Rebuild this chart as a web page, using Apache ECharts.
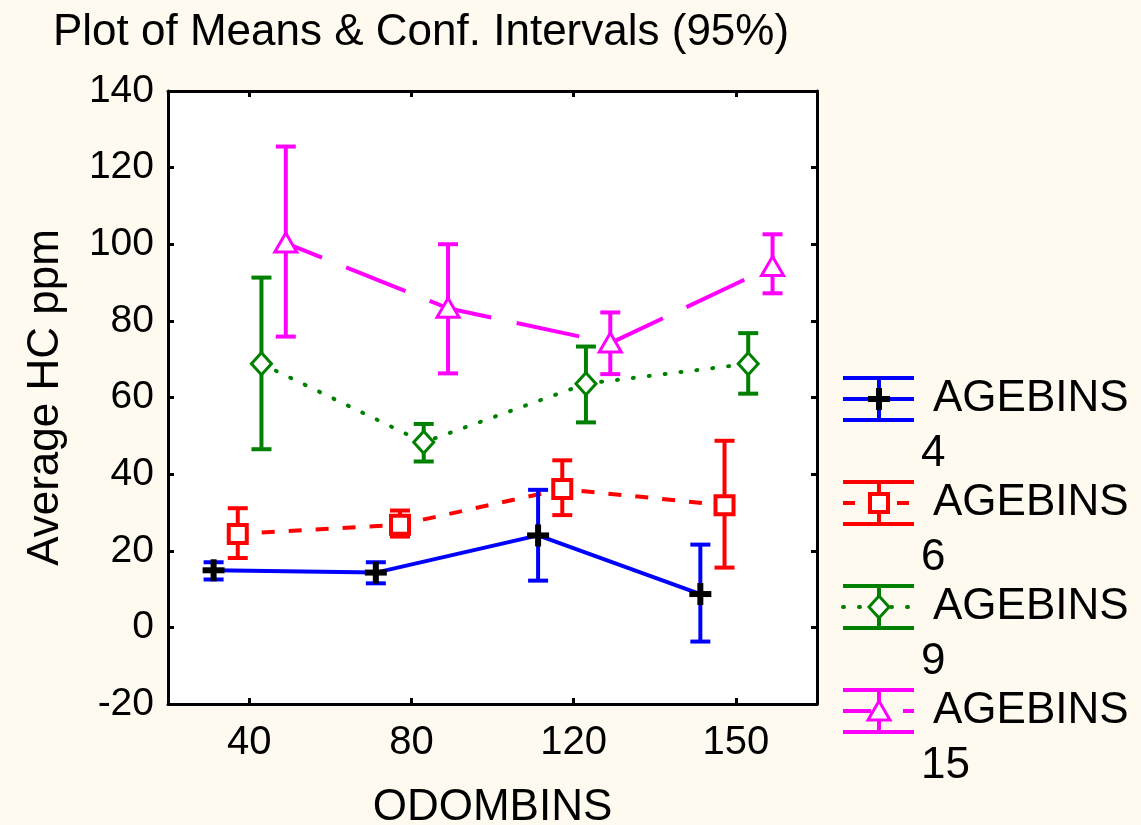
<!DOCTYPE html>
<html>
<head>
<meta charset="utf-8">
<title>Plot of Means & Conf. Intervals</title>
<script src="https://cdn.jsdelivr.net/npm/echarts@6/dist/echarts.min.js"></script>
<style>
  html, body { margin: 0; padding: 0; background: #fefaef; }
  #chart { width: 1141px; height: 825px; }
</style>
</head>
<body>
<div id="chart"></div>
<script>
// categories on the x axis (ODOMBINS) and groups (AGEBINS)
const CATEGORIES = ['40', '80', '120', '150']
const GROUPS = ['4', '6', '9', '15']

// means and 95% confidence limits, one array per group
const MEAN_4 = [14.9, 14.3, 24.0, 8.7]
const LOW_4 = [12.5, 11.5, 12.2, -3.7]
const HIGH_4 = [17.0, 17.0, 35.9, 21.6]

const MEAN_6 = [24.4, 26.8, 36.1, 31.9]
const LOW_6 = [18.1, 23.7, 29.3, 15.6]
const HIGH_6 = [31.1, 30.5, 43.6, 48.7]

const MEAN_9 = [68.8, 48.3, 63.6, 68.8]
const LOW_9 = [46.5, 43.3, 53.5, 61.0]
const HIGH_9 = [91.3, 53.1, 73.3, 76.8]

const MEAN_15 = [100.3, 83.3, 74.2, 94.2]
const LOW_15 = [75.9, 66.3, 66.1, 87.2]
const HIGH_15 = [125.5, 100.0, 82.2, 102.6]

const Y_MIN = -20
const Y_MAX = 140
const Y_STEP = 20

const MEANS = [MEAN_4, MEAN_6, MEAN_9, MEAN_15]
const LOWS = [LOW_4, LOW_6, LOW_9, LOW_15]
const HIGHS = [HIGH_4, HIGH_6, HIGH_9, HIGH_15]

const FONT = 'Liberation Sans, Arial, sans-serif'

// look of each group: colour, marker, dodge (fraction of a category band), line style
const STYLES = [
  { color: '#0000ff', marker: 'plus', dodge: -0.219, width: 4, type: 'solid', dashOffset: 0, legendDash: null },
  { color: '#ff0000', marker: 'square', dodge: -0.070, width: 4, type: [13, 14], dashOffset: 3, legendDash: [12, 42] },
  { color: '#008000', marker: 'diamond', dodge: 0.076, width: 4, type: [1, 15], dashOffset: 0, legendDash: [1, 15] },
  { color: '#ff00ff', marker: 'triangle', dodge: 0.226, width: 4, type: [64, 26], dashOffset: 25, legendDash: [28, 32] }
]

function markerShape(kind, color, cx, cy) {
  if (kind === 'plus') {
    return [
      { type: 'rect', shape: { x: cx - 11, y: cy - 3, width: 22, height: 6 }, style: { fill: '#000' } },
      { type: 'rect', shape: { x: cx - 3, y: cy - 11, width: 6, height: 22 }, style: { fill: '#000' } }
    ]
  }
  if (kind === 'square') {
    return [{ type: 'rect', shape: { x: cx - 9, y: cy - 9, width: 18, height: 18 },
      style: { fill: '#fff', stroke: color, lineWidth: 4 } }]
  }
  if (kind === 'diamond') {
    return [{ type: 'polygon', shape: { points: [[cx, cy - 11], [cx + 10, cy], [cx, cy + 11], [cx - 10, cy]] },
      style: { fill: '#fff', stroke: color, lineWidth: 3 } }]
  }
  return [{ type: 'polygon', shape: { points: [[cx, cy - 10], [cx + 11, cy + 9], [cx - 11, cy + 9]] },
    style: { fill: '#fff', stroke: color, lineWidth: 3 } }]
}

function errorBarSeries(g) {
  const st = STYLES[g]
  return {
    type: 'custom',
    name: 'AGEBINS ' + GROUPS[g],
    xAxisIndex: 2,
    yAxisIndex: 0,
    z: 5,
    dimensions: ['x', 'low', 'high', 'mean'],
    encode: { x: 0, y: [1, 2, 3] },
    data: CATEGORIES.map((c, i) => [i + st.dodge, LOWS[g][i], HIGHS[g][i], MEANS[g][i]]),
    renderItem: function(params, api) {
      const x = api.value(0)
      const top = api.coord([x, api.value(2)])
      const bot = api.coord([x, api.value(1)])
      const mid = api.coord([x, api.value(3)])
      const ls = { stroke: st.color, lineWidth: 4 }
      const children = [
        { type: 'line', shape: { x1: top[0], y1: top[1], x2: bot[0], y2: bot[1] }, style: ls },
        { type: 'line', shape: { x1: top[0] - 10, y1: top[1], x2: top[0] + 10, y2: top[1] }, style: ls },
        { type: 'line', shape: { x1: bot[0] - 10, y1: bot[1], x2: bot[0] + 10, y2: bot[1] }, style: ls }
      ].concat(markerShape(st.marker, st.color, mid[0], mid[1]))
      return { type: 'group', children: children }
    }
  }
}

function meanLineSeries(g) {
  const st = STYLES[g]
  return {
    type: 'line',
    xAxisIndex: 2,
    yAxisIndex: 0,
    z: 3,
    symbol: 'none',
    data: CATEGORIES.map((c, i) => [i + st.dodge, MEANS[g][i]]),
    lineStyle: { color: st.color, width: st.width, type: st.type, dashOffset: st.dashOffset, cap: g === 2 ? 'round' : 'butt' }
  }
}

// legend drawn as graphics: error bar icon + two-line label
function legendGraphics() {
  const out = []
  GROUPS.forEach((name, g) => {
    const st = STYLES[g]
    const cy = 399 + g * 104
    const x0 = 843
    const x1 = 914
    const cx = 879
    const ls = { stroke: st.color, lineWidth: 4 }
    out.push({ type: 'line', shape: { x1: x0, y1: cy - 21, x2: x1, y2: cy - 21 }, style: ls })
    out.push({ type: 'line', shape: { x1: x0, y1: cy + 21, x2: x1, y2: cy + 21 }, style: ls })
    out.push({ type: 'line', shape: { x1: cx, y1: cy - 21, x2: cx, y2: cy + 21 }, style: ls })
    out.push({ type: 'line', shape: { x1: x0, y1: cy, x2: x1, y2: cy },
      style: { stroke: st.color, lineWidth: 4, lineDash: st.legendDash, lineCap: g === 2 ? 'round' : 'butt' } })
    markerShape(st.marker, st.color, cx, cy).forEach(m => out.push(m))
    out.push({ type: 'text', x: 933, y: cy, style: { text: 'AGEBINS', font: '44px ' + FONT, fill: '#000', verticalAlign: 'middle' } })
    out.push({ type: 'text', x: 921, y: cy + 55, style: { text: name, font: '44px ' + FONT, fill: '#000', verticalAlign: 'middle' } })
  })
  return out
}

const axisLine = { show: true, onZero: false, lineStyle: { color: '#000', width: 3 } }
const axisTick = { show: true, inside: true, length: 6, lineStyle: { color: '#000', width: 3 } }

const chart = echarts.init(document.getElementById('chart'))

chart.setOption({
  animation: false,
  backgroundColor: '#fefaef',
  textStyle: { fontFamily: FONT },
  title: {
    text: 'Plot of Means & Conf. Intervals (95%)',
    left: 48,
    top: 6,
    textStyle: { fontSize: 44, fontWeight: 'normal', color: '#000', fontFamily: FONT }
  },
  grid: {
    left: 168,
    top: 91,
    width: 649,
    height: 613,
    outerBoundsMode: 'none',
    show: true,
    backgroundColor: '#ffffff',
    borderWidth: 0
  },
  xAxis: [{
    type: 'category',
    data: CATEGORIES,
    position: 'bottom',
    axisLine: axisLine,
    axisTick: Object.assign({ alignWithLabel: true }, axisTick),
    axisLabel: { fontSize: 40, color: '#000', margin: 19, fontFamily: FONT },
    splitLine: { show: false },
    name: 'ODOMBINS',
    nameLocation: 'middle',
    nameGap: 82,
    nameTextStyle: { fontSize: 44, color: '#000', fontFamily: FONT }
  }, {
    type: 'category',
    data: CATEGORIES,
    position: 'top',
    axisLine: axisLine,
    axisTick: Object.assign({ alignWithLabel: true }, axisTick),
    axisLabel: { show: false },
    splitLine: { show: false }
  }, {
    type: 'value',
    min: -0.5,
    max: 3.5,
    show: false
  }],
  yAxis: [{
    type: 'value',
    min: Y_MIN,
    max: Y_MAX,
    interval: Y_STEP,
    position: 'left',
    axisLine: axisLine,
    axisTick: axisTick,
    axisLabel: { fontSize: 39, color: '#000', margin: 14, fontFamily: FONT },
    splitLine: { show: false },
    name: 'Average HC ppm',
    nameLocation: 'middle',
    nameGap: 100,
    nameTextStyle: { fontSize: 44, color: '#000', fontFamily: FONT }
  }, {
    type: 'value',
    min: Y_MIN,
    max: Y_MAX,
    interval: Y_STEP,
    position: 'right',
    axisLine: axisLine,
    axisTick: axisTick,
    axisLabel: { show: false },
    splitLine: { show: false }
  }],
  series: GROUPS.map((g, i) => meanLineSeries(i)).concat(GROUPS.map((g, i) => errorBarSeries(i))),
  graphic: legendGraphics()
})
</script>
</body>
</html>
